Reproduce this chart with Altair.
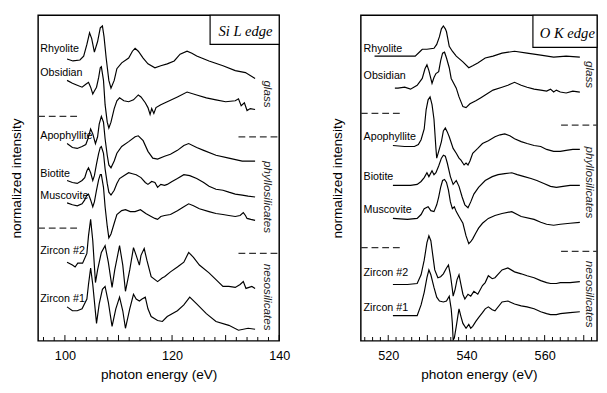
import altair as alt
import pandas as pd

SAMPLES = ["Rhyolite", "Obsidian", "Apophyllite", "Biotite", "Muscovite", "Zircon #2", "Zircon #1"]
GROUPS = ["glass", "phyllosilicates", "nesosilicates"]

# ---------------- Si L edge (photon energy eV, offset intensity a.u.) ----------------
SI_RHY_E = [100.4,101.5,102.8,103.5,104.1,104.6,105.0,105.5,106.1,106.6,107.0,107.3,107.7,108.2,108.6,109.2,109.7,110.6,111.9,112.6,113.1,113.7,114.6,115.5,116.8,117.9,119.1,120.4,121.5,122.8,123.7,124.6,126.9,129.5,131.8,133.7,135.5]
SI_RHY_I = [290,288,289,293,305,317,311,297,308,322,324,313,291,268,260,268,280,286,291,298,301,298,291,285,281,283,285,288,295,298,296,293,288,283,278,276,270]

SI_OBS_E = [100.4,101.4,102.3,103.2,103.9,104.4,104.8,105.2,105.5,105.9,106.3,106.6,106.8,107.2,107.5,107.9,108.2,108.6,109.2,109.7,110.2,111.0,111.9,112.8,113.7,114.2,115.0,115.5,115.9,116.2,116.6,117.0,117.9,119.1,121.0,122.8,124.6,126.4,128.2,130.0,131.8,132.4,132.9,133.5,134.0,134.6,135.5]
SI_OBS_I = [268,265,263,261,264,266,261,254,257,261,271,281,282,268,243,225,219,225,239,247,250,247,246,248,253,251,245,240,233,239,234,240,243,246,251,256,253,250,248,246,247,249,242,245,237,239,238]

SI_APO_E = [100.4,101.4,102.3,103.2,103.9,104.3,104.8,105.2,105.7,106.1,106.4,106.8,107.2,107.5,107.9,108.2,108.6,109.2,109.7,110.6,111.9,113.1,113.7,114.6,115.5,116.4,117.3,118.6,119.7,121.0,122.2,123.1,124.6,125.9,128.2,130.6,133.1,135.5]
SI_APO_I = [203,199,198,200,202,208,218,213,203,210,223,231,225,208,191,181,178,185,193,200,205,210,211,206,195,188,187,190,192,196,201,203,199,196,191,188,185,185]

SI_BIO_E = [100.4,101.4,102.3,103.2,103.7,104.1,104.4,104.8,105.2,105.5,105.9,106.3,106.6,106.8,107.2,107.5,107.9,108.2,108.6,109.2,109.7,110.2,111.0,111.9,112.6,113.3,114.2,115.0,115.5,116.2,116.8,117.3,117.9,118.6,119.1,120.0,121.0,122.2,123.3,124.6,125.9,126.9,128.2,129.5,130.6,131.8,133.1,134.2,135.5]
SI_BIO_I = [165,163,162,165,168,175,178,173,165,170,182,193,199,200,193,177,162,153,150,155,162,167,170,173,172,171,168,163,161,164,163,158,161,160,161,164,167,171,170,167,163,159,156,155,153,151,150,149,148]

SI_MUS_E = [100.4,101.4,102.3,103.2,103.7,104.1,104.4,104.8,105.2,105.5,105.9,106.3,106.6,106.8,107.2,107.5,107.9,108.2,108.6,109.2,109.7,110.6,111.3,112.2,113.1,114.1,115.1,116.1,116.8,117.3,117.9,118.6,119.7,121.0,122.2,123.1,124.0,125.1,126.9,128.2,129.5,130.6,131.8,132.7,133.3,133.7,134.0,134.7,135.5]
SI_MUS_I = [142,140,139,141,145,150,151,145,138,143,155,166,171,171,158,138,118,106,110,121,130,134,135,133,133,135,131,128,126,125,128,129,130,134,138,141,139,136,133,131,130,129,128,129,132,129,126,125,124]

SI_ZR2_E = [100.4,101.4,101.9,102.4,103.3,104.1,104.4,104.8,105.2,105.7,106.1,106.8,107.5,108.1,108.8,109.3,110.2,110.8,111.3,112.1,112.8,113.3,113.9,114.2,114.8,115.3,116.1,117.3,118.2,118.6,119.7,121.0,122.2,123.1,124.0,125.1,126.9,128.2,129.5,130.6,131.8,132.7,133.3,133.8,134.9,135.5]
SI_ZR2_I = [81,78,76,80,80,90,108,125,103,60,73,91,98,81,55,73,98,78,51,73,96,88,78,88,95,83,66,61,65,66,71,76,81,91,86,78,70,63,56,56,55,58,61,54,56,54]

SI_ZR1_E = [100.4,101.4,102.3,103.2,104.1,104.4,104.8,105.2,105.9,106.4,107.0,107.5,108.1,108.8,109.5,110.2,110.8,111.3,112.1,112.8,113.3,113.9,114.4,115.0,115.5,116.1,117.3,118.2,119.1,121.0,122.2,123.3,124.6,126.4,128.2,130.6,132.4,134.2,135.5]
SI_ZR1_I = [35,31,31,33,43,58,75,58,18,38,53,56,40,15,33,45,31,13,33,48,43,41,43,45,33,25,21,20,25,31,37,45,38,28,20,16,11,13,12]

# ---------------- O K edge ----------------
O_RHY_E = [516.5,522.5,526.9,528.2,528.7,529.9,531.7,532.4,533.1,533.6,534.1,534.6,534.9,535.6,536.4,537.4,539.1,540.6,541.6,542.9,544.8,546.8,549.1,552.3,555.5,559.0,562.3,565.5,569.0]
O_RHY_I = [293,293,293,298,300,300,301,305,313,321,324,321,318,303,298,293,287,281,283,286,291,293,296,298,296,294,292,293,292]

O_OBS_E = [521.7,522.5,524.2,525.7,527.4,528.7,529.4,529.9,530.4,531.2,531.7,532.2,532.9,533.4,533.9,534.4,534.9,535.6,536.1,537.4,538.1,539.1,539.9,540.9,542.4,543.6,544.8,546.8,549.1,550.6,552.3,554.0,555.5,557.3,559.0,560.5,561.5,562.3,563.0,564.0,565.5,567.2,569.0]
O_OBS_I = [260,260,261,259,263,270,280,284,278,265,271,275,277,288,296,297,291,281,270,260,251,241,240,244,247,250,253,258,261,263,266,263,261,259,258,257,259,256,258,256,255,257,256]

O_APO_E = [521.2,524.2,526.7,527.7,528.4,529.2,529.7,530.2,530.7,531.2,531.7,532.2,532.4,532.9,533.6,534.1,534.6,535.1,535.6,536.6,537.4,538.1,538.6,539.4,539.9,540.4,540.9,541.6,542.9,544.1,545.6,547.3,548.6,549.8,551.1,552.3,554.0,555.5,557.3,559.0,560.5,562.3,564.0,565.5,567.2,569.0]
O_APO_I = [201,200,200,202,207,218,238,248,251,243,228,198,188,195,205,216,219,215,210,198,193,188,186,181,183,181,185,193,198,203,206,210,212,213,211,208,205,203,201,200,197,195,195,196,197,197]

O_BIO_E = [521.2,523.7,525.7,527.4,528.4,529.2,529.9,530.4,531.2,531.7,532.2,532.9,533.6,534.1,534.6,535.1,535.9,536.6,537.4,538.1,538.9,539.6,540.4,541.1,541.9,543.1,544.8,546.6,548.1,549.8,551.6,553.0,554.8,556.5,558.0,559.8,561.5,563.0,564.7,566.5,569.0]
O_BIO_I = [160,160,160,161,164,168,173,169,175,171,173,180,188,191,190,183,169,161,165,159,148,140,137,143,151,158,165,169,171,172,173,171,169,167,165,162,159,158,159,160,160]

O_MUS_E = [521.2,524.9,527.4,528.4,529.2,530.2,530.9,531.7,532.4,532.9,533.4,533.9,534.4,534.9,535.4,535.9,536.4,536.9,537.4,538.1,539.1,539.9,540.6,541.1,541.6,542.4,543.1,544.1,545.6,547.3,549.1,551.6,554.0,557.3,559.0,560.5,562.3,564.0,566.5,569.0]
O_MUS_I = [126,125,126,130,136,138,134,133,140,148,158,165,166,163,155,143,136,138,133,128,121,108,100,102,105,111,116,121,126,129,131,133,128,125,122,120,119,120,121,122]

O_ZR2_E = [521.2,524.9,527.4,528.4,529.2,529.9,530.4,530.9,531.4,531.9,532.7,533.4,534.1,534.9,535.4,535.9,536.4,536.6,537.1,537.6,538.1,538.6,539.1,539.6,540.4,541.1,541.9,542.9,544.1,544.8,545.6,546.6,547.3,549.1,550.6,552.3,554.0,555.5,557.3,559.0,560.5,561.5,563.0,564.0,566.5,569.0]
O_ZR2_I = [58,58,59,68,83,101,108,103,88,73,65,66,69,75,78,68,53,46,53,63,68,58,48,43,48,46,51,48,57,60,67,64,65,73,75,71,69,67,65,62,60,59,59,60,60,61]

O_ZR1_E = [521.2,524.9,527.4,528.4,529.2,529.9,530.4,530.9,531.7,532.4,533.1,534.1,534.9,535.6,536.1,536.4,536.6,536.9,537.4,537.9,538.1,538.6,539.1,539.9,540.6,541.1,541.6,542.4,543.1,544.1,544.8,545.6,546.6,547.3,549.1,550.6,552.3,554.0,555.5,557.3,559.0,560.5,561.5,563.0,564.0,566.5,569.0]
O_ZR1_I = [26,26,26,37,50,65,73,68,55,45,41,40,41,46,33,18,1,3,15,28,33,25,18,13,17,13,15,20,24,29,33,35,32,31,40,41,38,36,35,33,30,28,27,27,28,29,30]

# label / annotation anchors (data units)
SI_LABEL_I = [300, 275, 211, 172, 149, 92, 43]
O_LABEL_I = [300, 272, 210, 169, 135, 70, 34]
SI_GROUP_I = [254, 148, 45]
O_GROUP_I = [274, 163, 48]
SI_SEP_I = [231, 116]
SI_SEP_R_I = [210, 90]
O_SEP_I = [234, 96]
O_SEP_R_I = [222, 92]

FONT = "Liberation Sans"
H = 335
YDOM = [0, 335]


def long_table(names, es, ins):
    rows = []
    for n, e, i in zip(names, es, ins, strict=True):
        for a, b in zip(e, i, strict=True):
            rows.append({"sample": n, "energy": a, "intensity": b})
    return pd.DataFrame(rows)


def panel(es, ins, xdom, width, xlabels, label_x, label_i, sep_l, sep_l_i, sep_r, sep_r_i,
          group_x, group_i, box, box_i, box_text, text_x, text_i, title_pad):
    xs = alt.Scale(domain=xdom, nice=False, zero=False)
    ys = alt.Scale(domain=YDOM, nice=False, zero=False)
    xaxis = alt.Axis(values=xlabels, ticks=False, domain=False, grid=False, labelFlush=False,
                     labelFont=FONT, labelFontSize=13, labelColor="black", labelPadding=9,
                     title="photon energy (eV)", titleFont=FONT, titleFontSize=14,
                     titleFontWeight="normal", titleColor="black", titlePadding=6)
    yaxis = alt.Axis(labels=False, ticks=False, domain=False, grid=False,
                     title="normalized intensity", titleFont=FONT, titleFontSize=14,
                     titleFontWeight="normal", titleColor="black", titlePadding=title_pad)

    def X(f="energy"):
        return alt.X(f"{f}:Q", scale=xs, axis=xaxis)

    def Y(f="intensity"):
        return alt.Y(f"{f}:Q", scale=ys, axis=yaxis)

    df = long_table(SAMPLES, es, ins)
    lines = alt.Chart(df).mark_line(color="black", strokeWidth=1.2, clip=True).encode(
        x=X(), y=Y(), detail="sample:N")

    lab = pd.DataFrame({"sample": SAMPLES, "energy": [label_x] * len(SAMPLES), "intensity": label_i})
    labels = alt.Chart(lab).mark_text(align="left", baseline="middle", font=FONT, fontSize=11,
                                       color="black").encode(x=X(), y=Y(), text="sample:N")

    seps = pd.DataFrame({
        "energy": [sep_l[0]] * 2 + [sep_r[0]] * 2,
        "energy2": [sep_l[1]] * 2 + [sep_r[1]] * 2,
        "intensity": list(sep_l_i) + list(sep_r_i)})
    dashes = alt.Chart(seps).mark_rule(color="#333", strokeWidth=1.3, strokeDash=[7, 4]).encode(
        x=X(), x2="energy2:Q", y=Y())

    grp = pd.DataFrame({"group": GROUPS, "energy": [group_x] * 3, "intensity": group_i})
    groups = alt.Chart(grp).mark_text(angle=90, font=FONT, fontSize=12, fontStyle="italic",
                                      color="#222", baseline="middle", align="center").encode(
        x=X(), y=Y(), text="group:N")

    bx = pd.DataFrame({"energy": [box[0]], "energy2": [box[1]], "intensity": [box_i[0]], "intensity2": [box_i[1]]})
    boxm = alt.Chart(bx).mark_rect(fill="white", stroke="black", strokeWidth=1.2).encode(
        x=X(), x2="energy2:Q", y=Y(), y2="intensity2:Q")
    bt = pd.DataFrame({"t": [box_text], "energy": [text_x], "intensity": [text_i]})
    boxt = alt.Chart(bt).mark_text(font="Liberation Serif", fontStyle="italic", fontSize=15,
                                   color="black", align="center", baseline="middle").encode(
        x=X(), y=Y(), text="t:N")

    lo, hi = int(xdom[0]), int(xdom[1])
    tick_e = [v for v in range(lo, hi + 1) if v % 2 == 0 and xdom[0] <= v <= xdom[1]]
    tk = pd.DataFrame({"energy": tick_e, "intensity": [0] * len(tick_e),
                       "top": [6 if v % 10 == 0 else 4 for v in tick_e]})
    ticks = alt.Chart(tk).mark_rule(color="black", strokeWidth=1).encode(
        x=X(), y=Y(), y2="top:Q")

    return alt.layer(lines, labels, dashes, groups, boxm, boxt, ticks).properties(width=width, height=H)


left = panel([SI_RHY_E, SI_OBS_E, SI_APO_E, SI_BIO_E, SI_MUS_E, SI_ZR2_E, SI_ZR1_E],
             [SI_RHY_I, SI_OBS_I, SI_APO_I, SI_BIO_I, SI_MUS_I, SI_ZR2_I, SI_ZR1_I],
             [95, 140], 248, [100, 120, 140], 95.4, SI_LABEL_I,
             (95, 102.6), SI_SEP_I, (132.4, 140), SI_SEP_R_I,
             137.8, SI_GROUP_I, (127.1, 140), (305, 335), "Si L edge", 133.7, 319, 15)

right = panel([O_RHY_E, O_OBS_E, O_APO_E, O_BIO_E, O_MUS_E, O_ZR2_E, O_ZR1_E],
              [O_RHY_I, O_OBS_I, O_APO_I, O_BIO_I, O_MUS_I, O_ZR2_I, O_ZR1_I],
              [513, 573.4], 243, [520, 540, 560], 513.7, O_LABEL_I,
              (513, 523.2), O_SEP_I, (564.2, 573.4), O_SEP_R_I,
              571.6, O_GROUP_I, (557.0, 573.4), (302, 335), "O K edge", 565.8, 317, 17)

chart = alt.hconcat(left, right, spacing=84, bounds="flush").properties(
    padding={"left": 1, "top": 0, "right": 0, "bottom": 0}
).configure_view(stroke="black", strokeWidth=1.5)

chart.save("out.html", embed_options={"renderer": "svg", "actions": False})
